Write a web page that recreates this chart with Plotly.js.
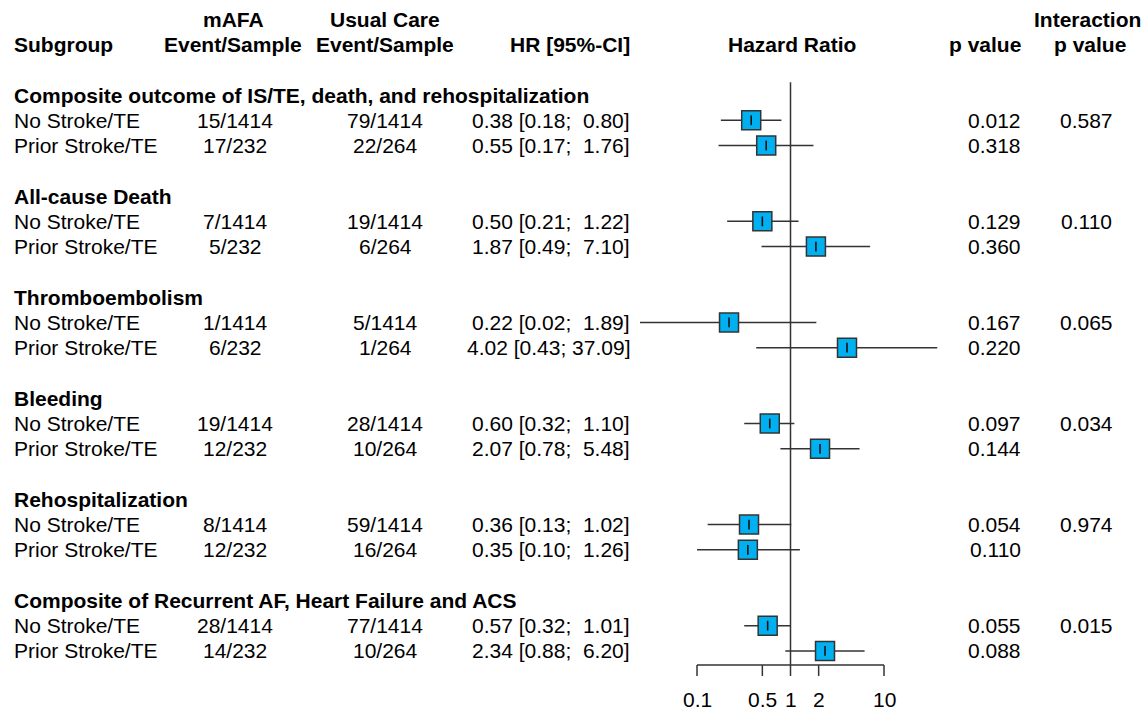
<!DOCTYPE html>
<html>
<head>
<meta charset="utf-8">
<script src="https://cdn.plot.ly/plotly-3.0.1.min.js"></script>
<style>html,body{margin:0;padding:0;background:#fff;}#chart{width:1146px;height:713px;}</style>
</head>
<body>
<div id="chart"></div>
<script>
// ---- data ----
const groups = ["Composite outcome of IS/TE, death, and rehospitalization","All-cause Death","Thromboembolism","Bleeding","Rehospitalization","Composite of Recurrent AF, Heart Failure and ACS"];
const subgroups = ["No Stroke/TE","Prior Stroke/TE"];
const mafa = ["15/1414","17/232","7/1414","5/232","1/1414","6/232","19/1414","12/232","8/1414","12/232","28/1414","14/232"];
const usual = ["79/1414","22/264","19/1414","6/264","5/1414","1/264","28/1414","10/264","59/1414","16/264","77/1414","10/264"];
const hr = [0.38,0.55,0.50,1.87,0.22,4.02,0.60,2.07,0.36,0.35,0.57,2.34];
const lo = [0.18,0.17,0.21,0.49,0.02,0.43,0.32,0.78,0.13,0.10,0.32,0.88];
const hi = [0.80,1.76,1.22,7.10,1.89,37.09,1.10,5.48,1.02,1.26,1.01,6.20];
const pval = ["0.012","0.318","0.129","0.360","0.167","0.220","0.097","0.144","0.054","0.110","0.055","0.088"];
const pint = ["0.587","0.110","0.065","0.034","0.974","0.015"];
const tickVals = [0.1,0.5,1,2,10];
const tickText = ["0.1","0.5","1","2","10"];

// ---- layout helpers ----
const FS = 21;
const FONT = "Liberation Sans, Arial, sans-serif";
const LC = "#333333";
const rowY = [];           // y position (row units) of each subgroup row
const groupY = [];
groups.forEach((g,k)=>{ groupY.push(4*k); rowY.push(4*k+1, 4*k+2); });
const axisY = 22.56, tickEndY = 22.99, tickLabBottom = (712-95)/25.27;

const nb = s => s.replace(/ /g,"\u00A0");
const pad = (s,n) => { while (s.length < n) s = " " + s; return s; };
const hrText = hr.map((v,i)=> nb(v.toFixed(2) + " [" + lo[i].toFixed(2) + "; " + pad(hi[i].toFixed(2),5) + "]"));

const ann = [];
function A(x,y,text,anchor,bold){
  ann.push({xref:"x",yref:"y",x:x,y:y,text:bold?"<b>"+text+"</b>":text,showarrow:false,
    xanchor:anchor,yanchor:"middle",font:{family:FONT,size:FS,color:"#000"}});
}
// headers
A(233,-3,"mAFA","center",true);
A(385,-3,"Usual Care","center",true);
A(1087,-3,"Interaction","center",true);
A(12,-2,"Subgroup","left",true);
A(233,-2,"Event/Sample","center",true);
A(385,-2,"Event/Sample","center",true);
A(632,-2,"HR [95%-CI]","right",true);
A(792,-2,"Hazard Ratio","center",true);
A(1023,-2,"p value","right",true);
A(1090,-2,"p value","center",true);
// groups
groups.forEach((g,k)=>{
  A(12,groupY[k],g,"left",true);
  A(1086,groupY[k]+1,pint[k],"center",false);
});
rowY.forEach((y,i)=>{
  A(12,y,subgroups[i%2],"left",false);
  A(235,y,mafa[i],"center",false);
  A(385,y,usual[i],"center",false);
  A(632,y,hrText[i],"right",false);
  A(1023,y,pval[i],"right",false);
});
// axis tick labels (through the log axis scale)
tickVals.forEach((v,i)=>{
  ann.push({xref:"x2",yref:"y",x:Math.log10(v),y:tickLabBottom,text:tickText[i],showarrow:false,
    xanchor:"center",yanchor:"bottom",borderpad:0,font:{family:FONT,size:FS,color:"#000"}});
});

// ---- traces ----
const traces = [];
// CI lines
const cx=[], cy=[];
rowY.forEach((y,i)=>{ cx.push(lo[i],hi[i],null); cy.push(y,y,null); });
traces.push({x:cx,y:cy,xaxis:"x2",yaxis:"y",mode:"lines",line:{color:LC,width:1.5},hoverinfo:"skip"});
// reference line at 1
traces.push({x:[1,1],y:[-0.5,axisY],xaxis:"x2",yaxis:"y",mode:"lines",line:{color:LC,width:1.5},hoverinfo:"skip"});
// axis line and ticks
const ax=[tickVals[0],tickVals[tickVals.length-1],null], ay=[axisY,axisY,null];
tickVals.forEach(v=>{ ax.push(v,v,null); ay.push(axisY,tickEndY,null); });
traces.push({x:ax,y:ay,xaxis:"x2",yaxis:"y",mode:"lines",line:{color:LC,width:1.5},hoverinfo:"skip"});
// squares
traces.push({x:hr,y:rowY,xaxis:"x2",yaxis:"y",mode:"markers",
  marker:{symbol:"square",size:19,color:"#00B0F0",line:{color:LC,width:1.5}},hoverinfo:"x"});
// center tick
traces.push({x:hr,y:rowY,xaxis:"x2",yaxis:"y",mode:"markers",
  marker:{symbol:"line-ns",size:7,line:{color:"#111",width:1.6}},hoverinfo:"skip"});

const W=1146;
const layout = {
  width:1146,height:713,margin:{l:0,r:0,t:0,b:0},showlegend:false,
  paper_bgcolor:"#fff",plot_bgcolor:"rgba(0,0,0,0)",
  xaxis:{range:[0,W],domain:[0,1],visible:false,fixedrange:true},
  xaxis2:{type:"log",range:[(640-790.5)/93.5,(950-790.5)/93.5],domain:[640/W,950/W],anchor:"y",visible:false,fixedrange:true},
  yaxis:{range:[(713-95)/25.27,-95/25.27],domain:[0,1],visible:false,fixedrange:true},
  annotations:ann
};
Plotly.newPlot("chart",traces,layout,{displayModeBar:false,staticPlot:true});
</script>
</body>
</html>
